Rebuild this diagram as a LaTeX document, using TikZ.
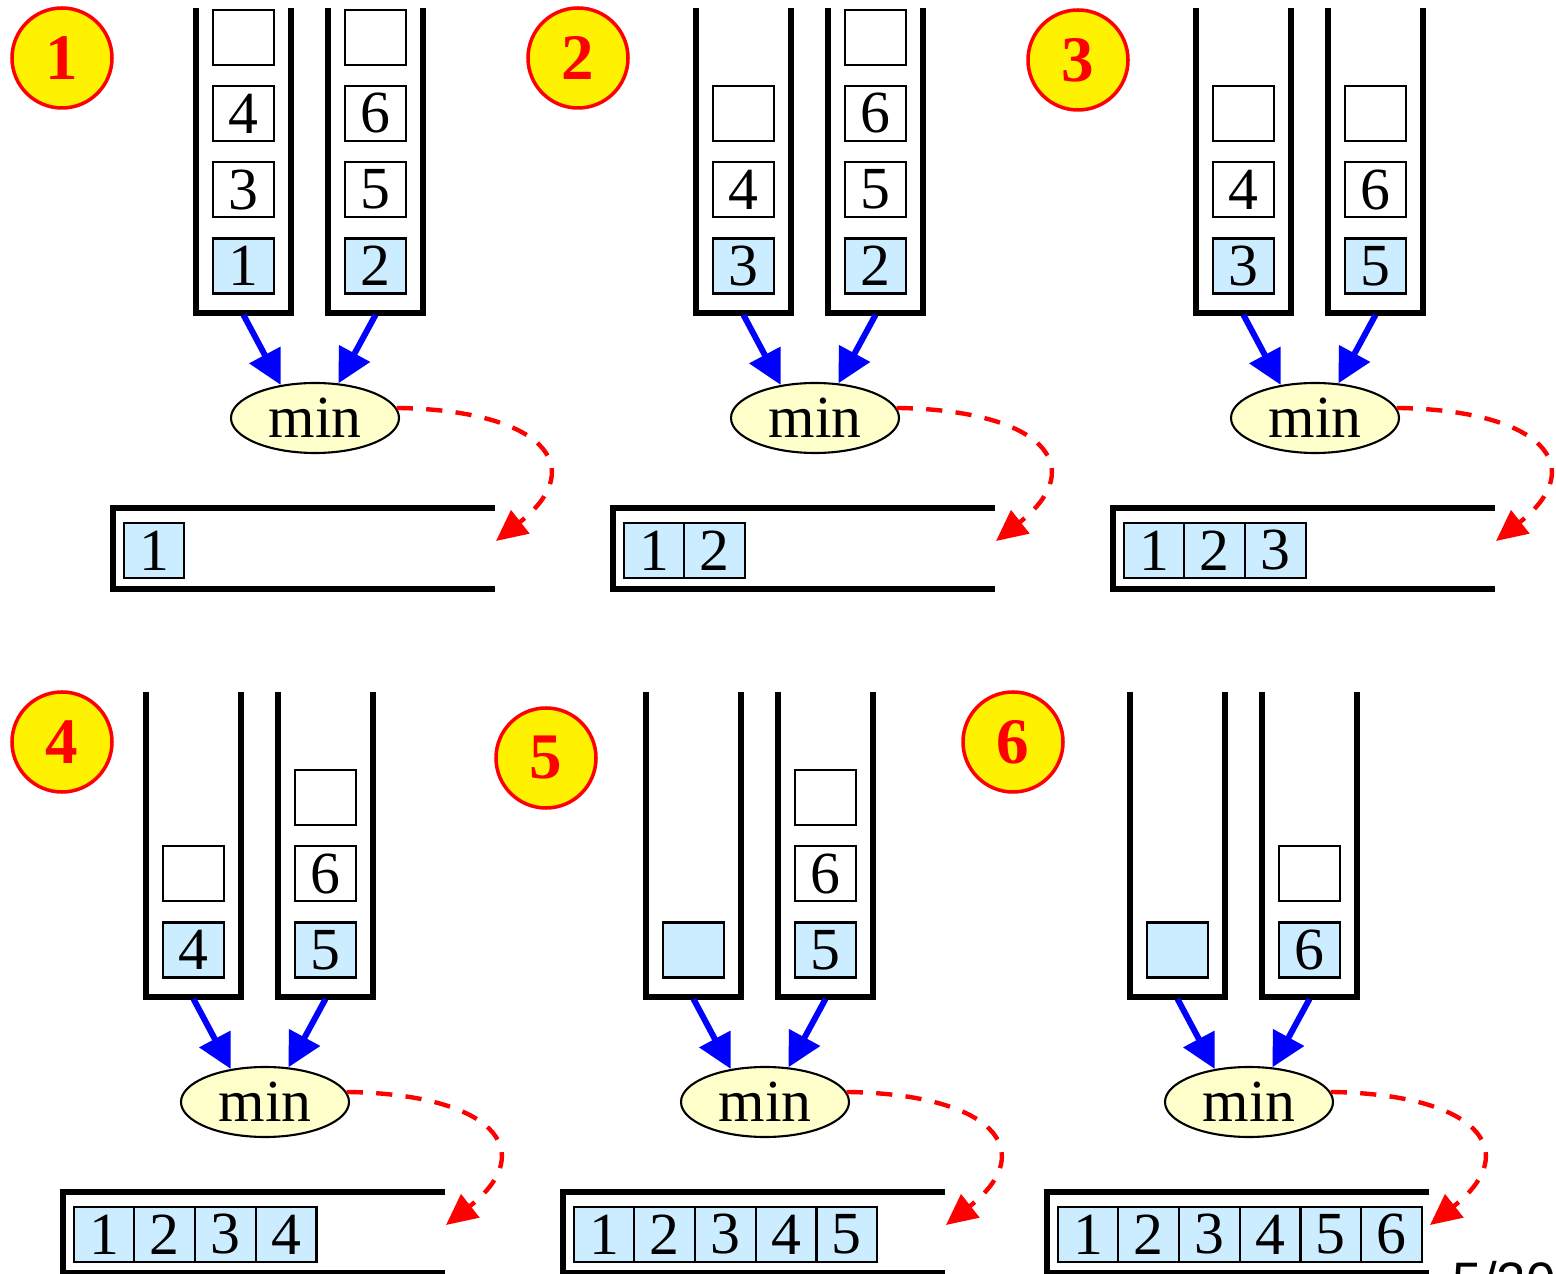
\documentclass[tikz,border=0pt]{standalone}
\usepackage{fontspec}
\setmainfont{Liberation Serif}
\setsansfont{Liberation Sans}
\usetikzlibrary{arrows.meta,shapes.geometric}
\definecolor{HeadBlue}{RGB}{204,236,255}
\definecolor{MinYellow}{RGB}{255,255,204}
\definecolor{FeedBlue}{RGB}{0,0,255}
\tikzset{
	cell/.style={draw=black,line width=0.6pt,minimum width=0.607cm,minimum height=0.55cm,inner sep=0pt,
		font=\fontsize{17}{18}\selectfont},
	wall/.style={draw=black,line width=1.6pt},
	minop/.style={ellipse,draw=black,line width=0.6pt,fill=MinYellow,minimum width=1.68cm,minimum height=0.7cm,
		inner sep=0pt,font=\fontsize{17}{18}\selectfont},
	feed/.style={draw=FeedBlue,line width=1.7pt,-{Triangle[length=3.4mm,width=3.4mm]}},
	emit/.style={draw=red,line width=1.25pt,dash pattern=on 4.6pt off 3.8pt,-{Triangle[length=3.1mm,width=2.9mm]}},
	badge/.style={circle,draw=red,line width=1pt,fill=yellow,minimum size=1cm,inner sep=0pt,text=red,
		font=\fontsize{18.5}{20}\selectfont\bfseries},
}
\begin{document}
\begin{tikzpicture}
	\useasboundingbox (0,0) rectangle (15.56,-12.74);
	% two input runs, the min step and the output run, once per step
	\foreach \sx/\sy/\bx/\by/\k in {0/0/0.62/-0.58/1,5/0/0.78/-0.58/2,10/0/0.78/-0.6/3,
		-0.5/-6.84/1.12/-0.58/4,4.5/-6.84/0.96/-0.74/5,9.34/-6.84/0.79/-0.58/6}{
		\begin{scope}[xshift=\sx cm,yshift=\sy cm]
			\node[badge] (n\k) at (\bx,\by) {\k};
			\draw[wall] (1.96,-0.08) |- (2.91,-3.13) -- (2.91,-0.08);
			\draw[wall] (3.28,-0.08) |- (4.23,-3.13) -- (4.23,-0.08);
			\draw[wall] (4.95,-5.08) -| (1.13,-5.89) -- (4.95,-5.89);
			\coordinate (lb\k) at (2.435,-3.15);
			\coordinate (rb\k) at (3.755,-3.15);
			\coordinate (q\k) at (4.96,-5.41);
			\node[minop] (m\k) at (3.15,-4.18) {min};
			\draw[feed] (lb\k) -- (m\k.136);
			\draw[feed] (rb\k) -- (m\k.56);
			\draw[emit] (m\k.7) .. controls +(1.45,-0.02) and +(0.95,0.75) .. (q\k);
			\foreach \v in {1,...,\k}
			\node[cell,fill=HeadBlue] (o\k-\v) at (0.933+0.607*\v,-5.505) {\v};
		\end{scope}
	}
	% what is left in the runs
	\foreach \tb/\j/\f/\v in {l/0/HeadBlue/1,l/1/white/3,l/2/white/4,l/3/white/,r/0/HeadBlue/2,r/1/white/5,r/2/white/6,r/3/white/}
	\node[cell,fill=\f] (\tb\j-1) at ([yshift=4.9mm+\j*7.63mm]\tb b1) {\v};
	\foreach \tb/\j/\f/\v in {l/0/HeadBlue/3,l/1/white/4,l/2/white/,r/0/HeadBlue/2,r/1/white/5,r/2/white/6,r/3/white/}
	\node[cell,fill=\f] (\tb\j-2) at ([yshift=4.9mm+\j*7.63mm]\tb b2) {\v};
	\foreach \tb/\j/\f/\v in {l/0/HeadBlue/3,l/1/white/4,l/2/white/,r/0/HeadBlue/5,r/1/white/6,r/2/white/}
	\node[cell,fill=\f] (\tb\j-3) at ([yshift=4.9mm+\j*7.63mm]\tb b3) {\v};
	\foreach \tb/\j/\f/\v in {l/0/HeadBlue/4,l/1/white/,r/0/HeadBlue/5,r/1/white/6,r/2/white/}
	\node[cell,fill=\f] (\tb\j-4) at ([yshift=4.9mm+\j*7.63mm]\tb b4) {\v};
	\foreach \tb/\j/\f/\v in {l/0/HeadBlue/,r/0/HeadBlue/5,r/1/white/6,r/2/white/}
	\node[cell,fill=\f] (\tb\j-5) at ([yshift=4.9mm+\j*7.63mm]\tb b5) {\v};
	\foreach \tb/\j/\f/\v in {l/0/HeadBlue/,r/0/HeadBlue/6,r/1/white/}
	\node[cell,fill=\f] (\tb\j-6) at ([yshift=4.9mm+\j*7.63mm]\tb b6) {\v};
	% page number, only its top shows
	\node[anchor=north west,inner sep=0pt,font=\sffamily\fontsize{15}{16}\selectfont] (pg) at (14.52,-12.61) {5/20};
\end{tikzpicture}
\end{document}
